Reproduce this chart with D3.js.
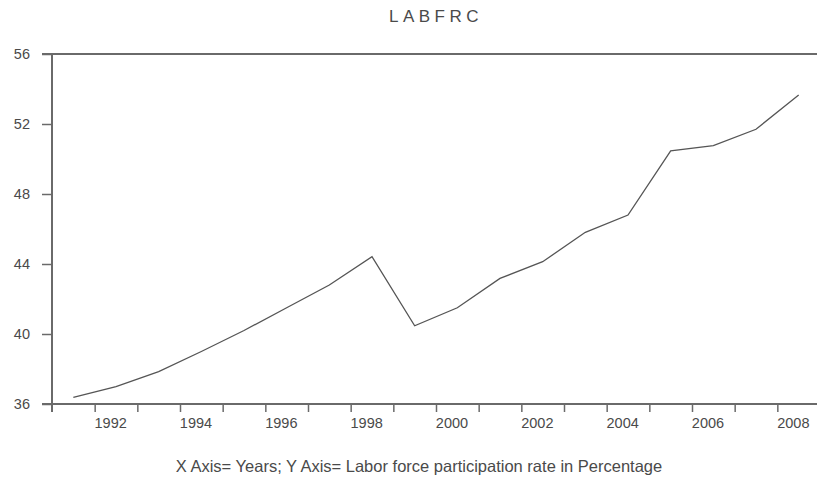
<!DOCTYPE html>
<html>
<head>
<meta charset="utf-8">
<script src="https://cdn.jsdelivr.net/npm/d3@7"></script>
<style>
  html, body { margin: 0; padding: 0; background: #fff; }
  svg { display: block; font-family: "Liberation Sans", Arial, sans-serif; }
</style>
</head>
<body>
<svg id="chart" width="817" height="483"></svg>
<script>
// Labor force participation rate (%), annual observations
const years = [1991, 1992, 1993, 1994, 1995, 1996, 1997, 1998, 1999,
               2000, 2001, 2002, 2003, 2004, 2005, 2006, 2007, 2008];
const labfrc = [36.38, 36.99, 37.85, 39.0, 40.2, 41.5, 42.8, 44.42, 40.47,
                41.5, 43.18, 44.13, 45.81, 46.8, 50.47, 50.76, 51.7, 53.66];
const yTicks = [36, 40, 44, 48, 52, 56];
const xTickLabels = [1992, 1994, 1996, 1998, 2000, 2002, 2004, 2006, 2008];
const title = "LABFRC";
const caption = "X Axis= Years; Y Axis= Labor force participation rate in Percentage";

const svg = d3.select("#chart");
const plot = { left: 52, right: 820, top: 54, bottom: 404 };
const axisColor = "#6a6a6a", textColor = "#4a4a4a";

// Each year occupies one interval; observations sit at mid-year
const x = d3.scaleLinear().domain([1991, 2009]).range([plot.left, plot.right]);
const y = d3.scaleLinear().domain([36, 56]).range([plot.bottom, plot.top]);

// Title
svg.append("text")
  .attr("x", 436).attr("y", 21.5)
  .attr("text-anchor", "middle")
  .attr("font-size", 17)
  .attr("letter-spacing", 4.5)
  .attr("fill", textColor)
  .text(title);

// Y axis (ticks outward to the left)
const yAxis = svg.append("g")
  .attr("transform", `translate(${plot.left},0)`)
  .call(d3.axisLeft(y).tickValues(yTicks).tickSize(10).tickPadding(12).tickFormat(d3.format("d")));
yAxis.select(".domain").remove();
yAxis.selectAll(".tick line").attr("stroke", axisColor).attr("stroke-width", 1.5);
yAxis.selectAll(".tick text").attr("fill", textColor).attr("font-size", 14.5)
  .attr("font-family", "Liberation Sans, Arial, sans-serif");

// Left axis line, running down past the baseline
svg.append("line")
  .attr("x1", plot.left).attr("x2", plot.left)
  .attr("y1", plot.top).attr("y2", plot.bottom + 8)
  .attr("stroke", axisColor).attr("stroke-width", 2);

// Top frame line
svg.append("line")
  .attr("x1", plot.left - 10).attr("x2", plot.right)
  .attr("y1", plot.top).attr("y2", plot.top)
  .attr("stroke", axisColor).attr("stroke-width", 2);

// X axis: tick at every year boundary, label on even years
const xAxis = svg.append("g")
  .attr("transform", `translate(0,${plot.bottom})`)
  .call(d3.axisBottom(x).tickValues(d3.range(1992, 2009)).tickSize(8).tickFormat(""));
xAxis.select(".domain").remove();
xAxis.selectAll(".tick line").attr("stroke", axisColor).attr("stroke-width", 1.5);

svg.append("line")
  .attr("x1", plot.left - 10).attr("x2", plot.right)
  .attr("y1", plot.bottom).attr("y2", plot.bottom)
  .attr("stroke", axisColor).attr("stroke-width", 2);

svg.append("g").selectAll("text")
  .data(xTickLabels)
  .join("text")
  .attr("x", d => x(d) + 16)
  .attr("y", plot.bottom + 24)
  .attr("text-anchor", "middle")
  .attr("font-size", 14.5)
  .attr("fill", textColor)
  .text(d => d);

// Series line
const line = d3.line()
  .x((d, i) => x(years[i] + 0.5))
  .y(d => y(d));

svg.append("path")
  .datum(labfrc)
  .attr("d", line)
  .attr("fill", "none")
  .attr("stroke", "#555")
  .attr("stroke-width", 1.3)
  .attr("stroke-linejoin", "miter");

// Caption
svg.append("text")
  .attr("x", 419).attr("y", 472)
  .attr("text-anchor", "middle")
  .attr("font-size", 16.5)
  .attr("fill", textColor)
  .text(caption);
</script>
</body>
</html>
